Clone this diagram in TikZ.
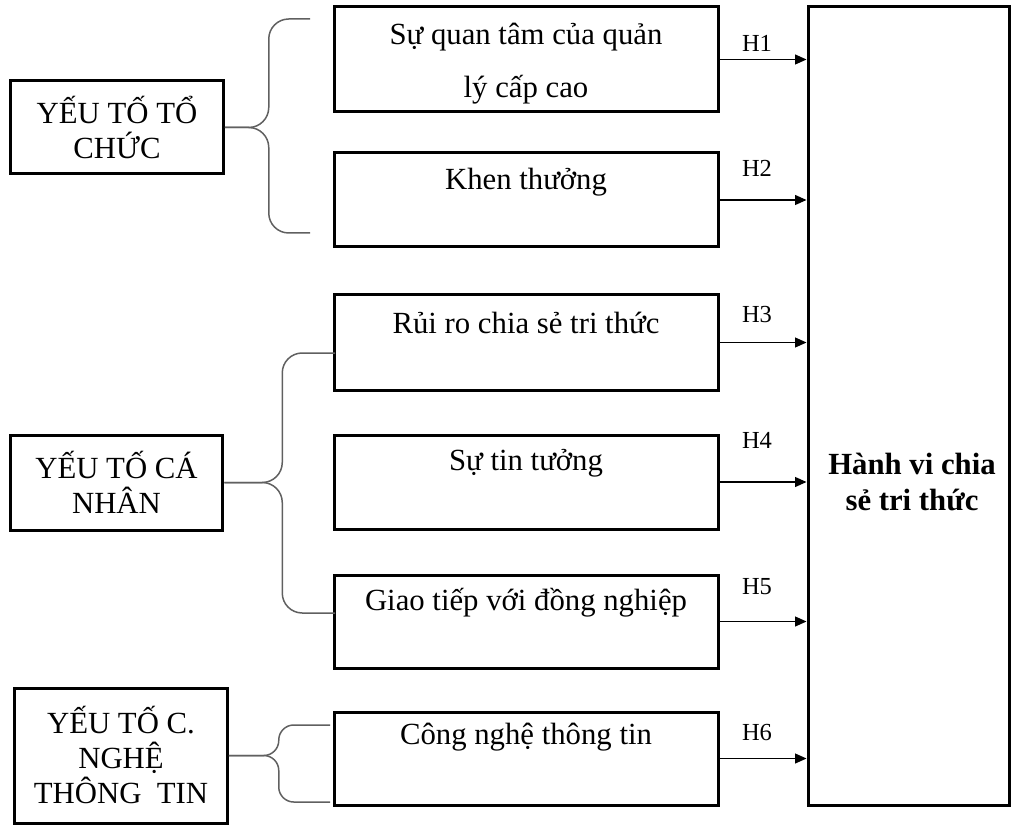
\documentclass[tikz,border=0pt]{standalone}
\usepackage{fontspec}
\setmainfont{Liberation Serif}
\usepackage{tikz}
\usetikzlibrary{arrows.meta,positioning,calc}

\begin{document}
\begin{tikzpicture}[
  x=0.4pt, y=-0.4pt,
  >={Triangle[length=4.6pt,width=4pt]},
  every node/.style={font=\fontsize{12.3}{14}\selectfont},
  factor/.style={
    draw, rectangle, line width=1.2pt, inner sep=0pt,
    align=center, minimum width=85pt
  },
  item/.style={
    draw, rectangle, line width=1.2pt, inner sep=0pt,
    minimum width=153.6pt, minimum height=37.6pt
  },
  result/.style={
    draw, rectangle, line width=1.2pt, inner sep=0pt,
    minimum width=80.4pt, minimum height=319.2pt
  },
  itemtext/.style={align=center, font=\fontsize{12.3}{21.2}\selectfont},
  resulttext/.style={align=center, font=\fontsize{12.3}{14}\selectfont\bfseries},
  hyp/.style={->, line width=0.5pt},
  hlabel/.style={font=\fontsize{9.8}{12}\selectfont},
  brace/.style={gray!75!black, line width=0.6pt, rounded corners=8pt}
]
\useasboundingbox (0,0) rectangle (1012,825);

% --- Factor groups ---
\node[factor, minimum height=37.2pt] (org) at (117,127.5) {YẾU TỐ TỔ\\CHỨC};
\node[factor, minimum height=38pt] (ind) at (116.5,482.5) {YẾU TỐ CÁ\\NHÂN};
\node[factor, minimum height=54pt] (tech) at (121,755.5) {YẾU TỐ C.\\NGHỆ\\THÔNG\ \ TIN};

% --- Items ---
\node[item, minimum height=42pt] (b1) at (526,59.5) {};
\node[itemtext] at (526,63.5) {Sự quan tâm của quản\\lý cấp cao};

\node[item] (b2) at (526,200) {};
\node[itemtext] at (526,182) {Khen thưởng};

\node[item, minimum height=38pt] (b3) at (526,342.5) {};
\node[itemtext] at (526,323) {Rủi ro chia sẻ tri thức};

\node[item] (b4) at (526,482) {};
\node[itemtext] at (526,463) {Sự tin tưởng};

\node[item, minimum height=37.2pt] (b5) at (526,621.5) {};
\node[itemtext] at (526,603) {Giao tiếp với đồng nghiệp};

\node[item, minimum height=37.2pt] (b6) at (526,758.5) {};
\node[itemtext] at (526,737) {Công nghệ thông tin};

% --- Outcome ---
\node[result] (out) at (908.5,406) {};
\node[resulttext] at (912,482) {Hành vi chia\\sẻ tri thức};

% --- Hypotheses ---
\draw[hyp] (b1.east) -- (b1.east -| out.west);
\node[hlabel] at (757,43) {H1};
\draw[hyp] (b2.east) -- (b2.east -| out.west);
\node[hlabel] at (757,168) {H2};
\draw[hyp] (b3.east) -- (b3.east -| out.west);
\node[hlabel] at (757,315) {H3};
\draw[hyp] (b4.east) -- (b4.east -| out.west);
\node[hlabel] at (757,440) {H4};
\draw[hyp] (b5.east) -- (b5.east -| out.west);
\node[hlabel] at (757,587) {H5};
\draw[hyp] (b6.east) -- (b6.east -| out.west);
\node[hlabel] at (757,733) {H6};

% --- Braces ---
\coordinate (orgT) at (310,19);
\coordinate (orgB) at (310,233);
\draw[brace] (orgT) -| ($(org.east)+(44,0)$) -- (org.east);
\draw[brace] (org.east) -- ($(org.east)+(44,0)$) |- (orgB);

\coordinate (indT) at (335,353);
\coordinate (indB) at (335,613);
\draw[brace] (indT) -| ($(ind.east)+(58,0)$) -- (ind.east);
\draw[brace] (ind.east) -- ($(ind.east)+(58,0)$) |- (indB);

\coordinate (techT) at (330,725);
\coordinate (techB) at (330,802);
\draw[brace, rounded corners=6pt] (techT) -| ($(tech.east)+(50,0)$) -- (tech.east);
\draw[brace, rounded corners=6pt] (tech.east) -- ($(tech.east)+(50,0)$) |- (techB);

\end{tikzpicture}
\end{document}
